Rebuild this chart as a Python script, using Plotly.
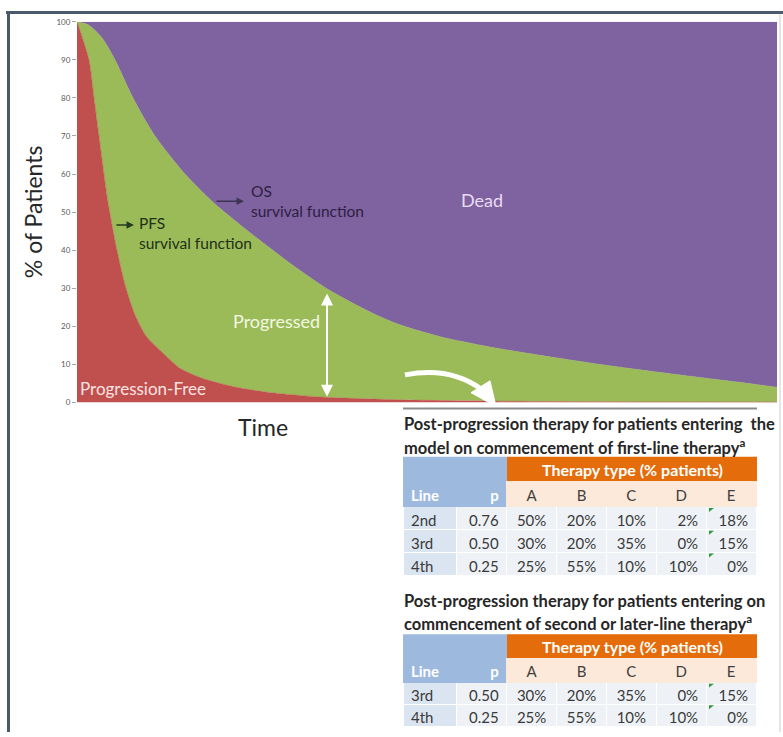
import plotly.graph_objects as go

W, H = 783, 737

# ---------------- data ----------------
time_pfs = [0, 1.71, 2.43, 3.14, 4.43, 5.71, 7.0, 8.29, 9.86, 12.57, 14.71,
            18.0, 22.29, 27.14, 34.29, 46.14, 60.43, 74.71, 100]
pfs_pct = [100, 90, 80, 70, 52.6, 40, 30, 23, 17.5, 12.5, 9.0,
           6.3, 4.2, 2.7, 1.5, 0.7, 0.35, 0.2, 0.1]

time_os = [0, 1.6, 3.57, 5.43, 8.0, 11.14, 15.43, 19.43, 25.14, 30.86,
           36.14, 42.29, 46.14, 51.86, 59.0, 66.14, 73.29, 80.43, 87.57, 94.71, 100]
os_pct = [100, 99.2, 95.8, 90, 80, 70, 60, 52.6, 44, 36.0,
          29.4, 23.4, 20.4, 17.3, 14.6, 12.4, 10.4, 8.6, 6.9, 5.3, 4.0]

total_pct = 100
y_ticks = [0, 10, 20, 30, 40, 50, 60, 70, 80, 90, 100]

therapy_cols = ["A", "B", "C", "D", "E"]

t1_lines = ["2nd", "3rd", "4th"]
t1_p = [0.76, 0.50, 0.25]
t1_share = {"A": [50, 30, 25], "B": [20, 20, 55], "C": [10, 35, 10],
            "D": [2, 0, 10], "E": [18, 15, 0]}

t2_lines = ["3rd", "4th"]
t2_p = [0.50, 0.25]
t2_share = {"A": [30, 25], "B": [20, 55], "C": [35, 10],
            "D": [0, 10], "E": [15, 0]}

t1_title = ("Post-progression therapy for patients entering  the",
            "model on commencement of first-line therapy<sup>a</sup>")
t2_title = ("Post-progression therapy for patients entering on",
            "commencement of second or later-line therapy<sup>a</sup>")


def px(x):
    return x / W


def py(y):
    return 1 - y / H


RED, GREEN, PURPLE = "#c0504d", "#9bbb59", "#7f62a0"
BLUE_H, BLUE_C, GRAY_C = "#9dbade", "#dbe5f1", "#eef2f7"
ORANGE, PEACH = "#e46c0a", "#fde9d9"
FONT = "Lato"

fig = go.Figure()

fig.add_trace(go.Scatter(x=time_pfs, y=pfs_pct, mode="lines", fill="tozeroy",
                         fillcolor=RED, line=dict(color=RED, width=0.5, shape="spline", smoothing=0.7),
                         hoverinfo="skip", showlegend=False))
fig.add_trace(go.Scatter(x=time_os, y=os_pct, mode="lines", fill="tonexty",
                         fillcolor=GREEN, line=dict(color=GREEN, width=0.5, shape="spline", smoothing=0.7),
                         hoverinfo="skip", showlegend=False))
fig.add_trace(go.Scatter(x=[time_os[0], time_os[-1]], y=[total_pct, total_pct], mode="lines",
                         fill="tonexty", fillcolor=PURPLE, line=dict(color=PURPLE, width=0),
                         hoverinfo="skip", showlegend=False))


def add_table(lines, pvals, share, top, head_h, cell_h):
    cols = [lines, [f"{v:.2f}" for v in pvals]] + \
           [[f"{v}%" for v in share[c]] for c in therapy_cols]
    n = len(lines)
    bottom = top + head_h + cell_h * n + 8
    fig.add_trace(go.Table(
        domain=dict(x=[px(403), px(757)], y=[max(0, py(bottom)), py(top)]),
        columnwidth=[54, 50, 50, 50, 50, 50, 50],
        header=dict(values=["Line", "p"] + therapy_cols,
                    fill_color=[BLUE_H, BLUE_H] + [PEACH] * 5,
                    line=dict(color=[BLUE_H, BLUE_H] + [PEACH] * 5, width=1),
                    align=["left", "right", "center", "center", "center", "center", "center"],
                    font=dict(family=FONT, size=15,
                              color=["white", "white"] + ["#404040"] * 5,
                              weight=[700, 700] + [400] * 5),
                    height=head_h),
        cells=dict(values=cols,
                   fill_color=[BLUE_C] + [GRAY_C] * 6,
                   line=dict(color="white", width=1),
                   align=["left", "right", "center", "center", "center", "right", "right"],
                   font=dict(family=FONT, size=15, color="#3a3a3a"),
                   height=cell_h),
    ))
    return n


add_table(t1_lines, t1_p, t1_share, 483, 25, 23)
add_table(t2_lines, t2_p, t2_share, 662, 24, 22)

shapes = []
annotations = []

# frame
shapes.append(dict(type="line", xref="paper", yref="paper", x0=px(6), x1=1, y0=py(7.5), y1=py(7.5),
                   line=dict(color="#4a5a6c", width=3)))
shapes.append(dict(type="line", xref="paper", yref="paper", x0=px(8.5), x1=px(8.5), y0=0, y1=py(6),
                   line=dict(color="#4a5a6c", width=3)))
shapes.append(dict(type="line", xref="paper", yref="paper", x0=px(780), x1=px(780), y0=0, y1=py(9),
                   line=dict(color="#c9ccd6", width=1)))

# separator above table titles
shapes.append(dict(type="line", xref="paper", yref="paper", x0=px(403), x1=px(757), y0=py(409), y1=py(409),
                   line=dict(color="#8a8a8a", width=2)))

# table header blocks
for top, bot in ((458, 483), (638, 662)):
    shapes.append(dict(type="rect", xref="paper", yref="paper", x0=px(403), x1=px(507),
                       y0=py(bot + 1), y1=py(top), fillcolor=BLUE_H, line=dict(width=0), layer="below"))
    shapes.append(dict(type="rect", xref="paper", yref="paper", x0=px(507), x1=px(757),
                       y0=py(bot), y1=py(top), fillcolor=ORANGE, line=dict(width=0), layer="below"))
    annotations.append(dict(xref="paper", yref="paper", x=px(632), y=py((top + bot) / 2),
                            text="<b>Therapy type (% patients)</b>", showarrow=False,
                            font=dict(family=FONT, size=16, color="white"),
                            xanchor="center", yanchor="middle"))

# little green comment markers in column E
for top, h, n in ((508, 23, len(t1_lines)), (686, 22, len(t2_lines))):
    for i in range(n):
        y0 = top + i * h + 2
        shapes.append(dict(type="path", xref="paper", yref="paper",
                           path=f"M {px(709)},{py(y0)} L {px(714)},{py(y0)} L {px(709)},{py(y0 + 4)} Z",
                           fillcolor="#2e9b3a", line=dict(width=0)))

# table titles
for (l1, l2), y1 in ((t1_title, 425), (t2_title, 604)):
    annotations.append(dict(xref="paper", yref="paper", x=px(402), y=py(y1), text=f"<b>{l1}</b>",
                            showarrow=False, xanchor="left", yanchor="middle",
                            font=dict(family=FONT, size=16.5, color="#262626")))
    annotations.append(dict(xref="paper", yref="paper", x=px(402), y=py(y1 + 23), text=f"<b>{l2}</b>",
                            showarrow=False, xanchor="left", yanchor="middle",
                            font=dict(family=FONT, size=16.5, color="#262626")))

# axis titles
annotations.append(dict(xref="paper", yref="paper", x=px(33), y=py(210), text="% of Patients",
                        textangle=-90, showarrow=False, xanchor="center", yanchor="middle",
                        font=dict(family=FONT, size=23, color="#262626")))
annotations.append(dict(xref="paper", yref="paper", x=px(263), y=py(428), text="Time",
                        showarrow=False, xanchor="center", yanchor="middle",
                        font=dict(family=FONT, size=23, color="#262626")))

# region labels
annotations.append(dict(xref="paper", yref="paper", x=px(482), y=py(198), text="Dead",
                        showarrow=False, xanchor="center", yanchor="middle",
                        font=dict(family=FONT, size=18, color="#e8dcf2")))
annotations.append(dict(xref="paper", yref="paper", x=px(276), y=py(320), text="Progressed",
                        showarrow=False, xanchor="center", yanchor="middle",
                        font=dict(family=FONT, size=18, color="#f2f8e2")))
annotations.append(dict(xref="paper", yref="paper", x=px(78), y=py(389), text="Progression-Free",
                        showarrow=False, xanchor="left", yanchor="middle",
                        font=dict(family=FONT, size=17, color="#fbe3e3")))

# function labels
annotations.append(dict(xref="paper", yref="paper", x=px(249), y=py(199), text="OS<br>survival function",
                        showarrow=False, xanchor="left", yanchor="middle", align="left",
                        font=dict(family=FONT, size=15.5, color="#2d2140")))
annotations.append(dict(xref="paper", yref="paper", x=px(137), y=py(231), text="PFS<br>survival function",
                        showarrow=False, xanchor="left", yanchor="middle", align="left",
                        font=dict(family=FONT, size=15.5, color="#22301a")))
# small arrows
annotations.append(dict(xref="paper", yref="paper", x=px(244), y=py(199), ax=-29, ay=0,
                        text="", showarrow=True, arrowhead=2, arrowsize=1, arrowwidth=1.5,
                        arrowcolor="#3d3550"))
annotations.append(dict(xref="paper", yref="paper", x=px(134), y=py(223), ax=-19, ay=0,
                        text="", showarrow=True, arrowhead=2, arrowsize=1, arrowwidth=1.5,
                        arrowcolor="#263a1f"))

# vertical double arrow (Progressed span)
xa = (327 - 77) / 7.0
annotations.append(dict(x=xa, y=1.5, ax=xa, ay=29, xref="x", yref="y", axref="x", ayref="y",
                        text="", showarrow=True, arrowhead=2, startarrowhead=2, arrowside="end+start",
                        arrowsize=1.2, arrowwidth=2, arrowcolor="white"))

# curved white arrow
shapes.append(dict(type="path", xref="paper", yref="paper",
                   path=f"M {px(405)},{py(375)} Q {px(450)},{py(366)} {px(482)},{py(390)}",
                   line=dict(color="white", width=5)))
shapes.append(dict(type="path", xref="paper", yref="paper",
                   path=f"M {px(471)},{py(393)} L {px(490)},{py(381)} L {px(496)},{py(407)} Z",
                   fillcolor="white", line=dict(color="white", width=1)))

fig.update_layout(
    width=W, height=H, margin=dict(l=0, r=0, t=0, b=0),
    paper_bgcolor="white", plot_bgcolor="white",
    showlegend=False,
    xaxis=dict(domain=[px(77), px(777)], range=[0, 100], showticklabels=False, showgrid=False,
               zeroline=False, showline=False, ticks="", fixedrange=True),
    yaxis=dict(domain=[py(403), py(17)], range=[0, 100], tickvals=y_ticks,
               showgrid=False, zeroline=False, showline=False, ticks="outside", ticklen=4,
               tickcolor="#a6a6a6", tickfont=dict(family=FONT, size=8, color="#595959"),
               fixedrange=True),
    shapes=shapes, annotations=annotations,
)

fig.write_html("out.html", config={"displayModeBar": False},
               post_script="document.body.style.margin='0';document.body.style.overflow='hidden';")
